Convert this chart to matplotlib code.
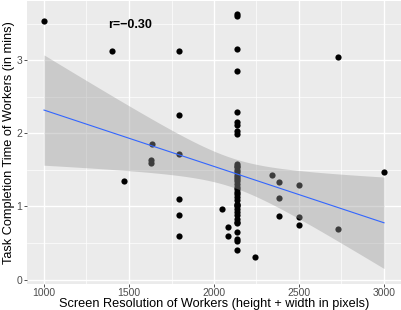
import numpy as np
import matplotlib
matplotlib.use("Agg")
import matplotlib.pyplot as plt

# screen resolution (height + width) and task completion time (mins)
res_col = [2134] * 38
time_col = [3.63, 3.60, 3.16, 2.85, 2.29, 2.15, 2.12, 2.03, 1.99,
            1.58, 1.56, 1.54, 1.50, 1.47, 1.43, 1.41, 1.38, 1.35, 1.31,
            1.27, 1.24, 1.20, 1.17, 1.13, 1.09, 1.04, 1.00, 0.96, 0.92,
            0.88, 0.83, 0.79, 0.77, 0.65, 0.56, 0.53, 0.41, 1.02]

res_other = [1000, 1401, 1469, 1630, 1630, 1635, 1792, 1792, 1792, 1792,
             1792, 1792, 2050, 2080, 2080, 2240, 2340, 2382, 2382, 2382,
             2500, 2500, 2500, 2729, 2729, 3000]
time_other = [3.53, 3.13, 1.35, 1.63, 1.60, 1.85, 3.13, 2.25, 1.72, 1.10,
              0.89, 0.59, 0.97, 0.72, 0.59, 0.31, 1.43, 1.34, 1.12, 0.87,
              1.30, 0.86, 0.75, 3.05, 0.69, 1.47]

resolution = np.array(res_col + res_other, dtype=float)
minutes = np.array(time_col + time_other)

r_label = "r=\u22120.30"

# linear fit with 95% confidence band (like geom_smooth(method='lm'))
n = len(resolution)
slope, intercept = np.polyfit(resolution, minutes, 1)
resid = minutes - (slope * resolution + intercept)
s = np.sqrt(np.sum(resid ** 2) / (n - 2))
xm = resolution.mean()
sxx = np.sum((resolution - xm) ** 2)
t_crit = 2.0
xs = np.linspace(resolution.min(), resolution.max(), 80)
fit = slope * xs + intercept
se = s * np.sqrt(1 / n + (xs - xm) ** 2 / sxx)

plt.rcParams['font.family'] = ['Liberation Sans', 'DejaVu Sans']

fig = plt.figure(figsize=(4.02, 3.10), dpi=100)
ax = fig.add_axes([27 / 402, 26 / 310, 374 / 402, 283 / 310])
ax.set_facecolor('#EBEBEB')
for sp in ax.spines.values():
    sp.set_visible(False)

ax.set_xticks([1000, 1500, 2000, 2500, 3000])
ax.set_yticks([0, 1, 2, 3])
ax.set_xticks([1250, 1750, 2250, 2750], minor=True)
ax.set_yticks([0.5, 1.5, 2.5, 3.5], minor=True)
ax.grid(which='major', color='white', linewidth=1.0)
ax.grid(which='minor', color='white', linewidth=0.5)
ax.set_axisbelow(True)
ax.tick_params(which='major', length=2.2, width=0.6, color='#333333',
               labelsize=7.5, labelcolor='#4D4D4D', pad=1)
ax.tick_params(which='minor', length=0)

ax.scatter(resolution, minutes, s=20, color='black', linewidths=0, zorder=2)
ax.fill_between(xs, fit - t_crit * se, fit + t_crit * se, color='#999999',
                alpha=0.4, linewidth=0, zorder=3)
ax.plot(xs, fit, color='#3366FF', linewidth=0.8, zorder=4)

ax.text(1506, 3.48, r_label, fontsize=9, fontweight='bold',
        ha='center', va='center')

ax.set_xlim(900, 3100)
ax.set_ylim(-0.06, 3.81)
ax.set_xlabel('Screen Resolution of Workers (height + width in pixels)',
              fontsize=9.2, labelpad=0)
ax.set_ylabel('Task Completion Time of Workers (in mins)', fontsize=9.2,
              labelpad=1)

fig.savefig('out.png', dpi=100)
